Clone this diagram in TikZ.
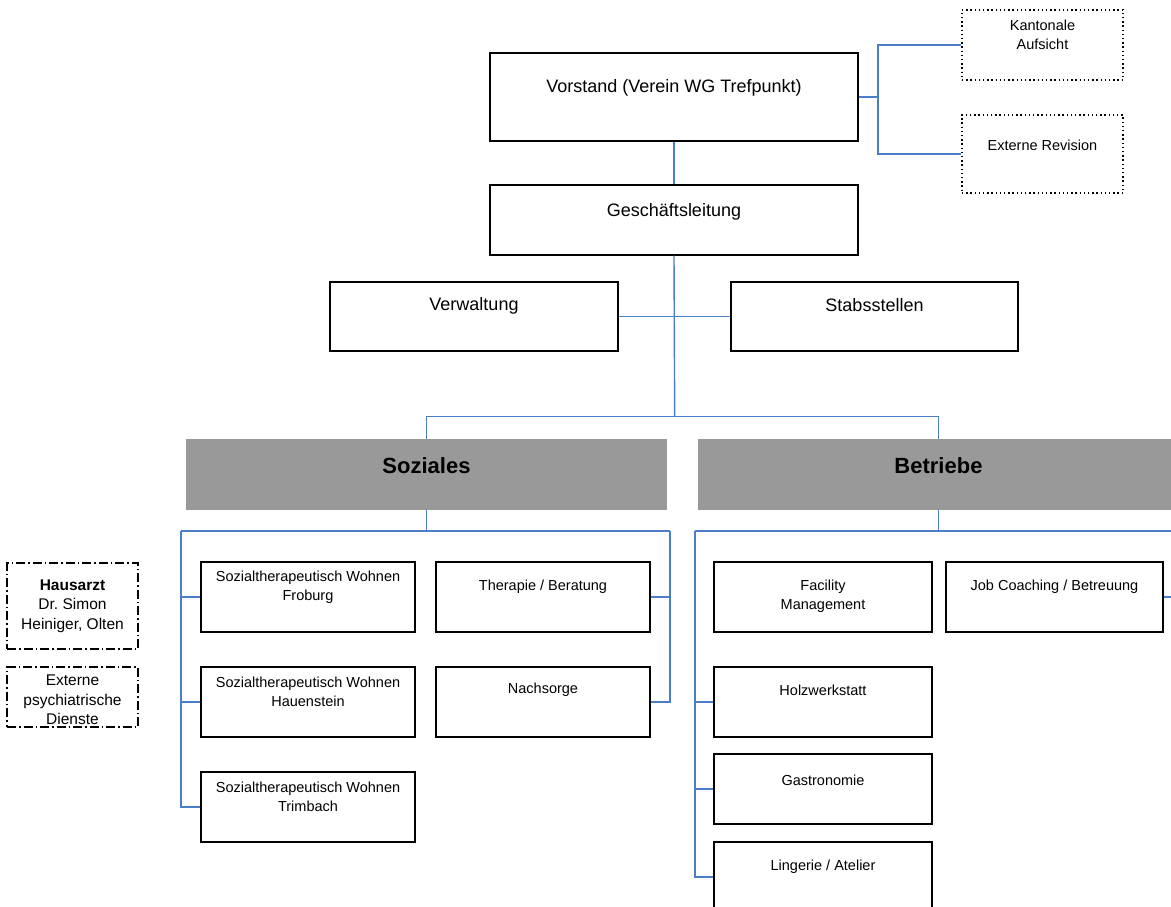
\documentclass[tikz,border=0pt]{standalone}
\usepackage{fontspec}
\setmainfont{Liberation Sans}

\definecolor{linkblue}{RGB}{74,126,200}
\definecolor{unitgray}{RGB}{153,153,153}

\begin{document}
\begin{tikzpicture}[x=1pt, y=-1pt,
    unit/.style={draw, line width=1.2pt, inner sep=0pt},
    bigtxt/.style={font=\fontsize{18}{21}\selectfont},
    smalltxt/.style={font=\fontsize{14.5}{19.5}\selectfont, align=center},
    exttxt/.style={font=\fontsize{15.5}{19.3}\selectfont, align=center},
    area/.style={fill=unitgray, inner sep=0pt, minimum width=481pt, minimum height=71pt},
    areatxt/.style={font=\bfseries\fontsize{22}{26}\selectfont},
    dotbox/.style={draw, line width=1.6pt, dash pattern=on 1.4pt off 2.8pt, inner sep=0pt},
    dashdotbox/.style={draw, line width=1.8pt, dash pattern=on 9pt off 3pt on 1.5pt off 3pt, inner sep=0pt},
    link/.style={draw=linkblue, line width=1.4pt}]
    \path[use as bounding box, clip] (0,0) rectangle (1171,906);

    % top level
    \node[unit, minimum width=368pt, minimum height=88pt,
        label={[bigtxt, yshift=9pt]center:Vorstand (Verein WG Trefpunkt)}] (vorstand) at (674,97) {};
    \node[unit, minimum width=368pt, minimum height=70pt,
        label={[bigtxt, yshift=8pt]center:Geschäftsleitung}] (gl) at (674,220) {};
    \node[unit, minimum width=288pt, minimum height=69pt,
        label={[bigtxt, yshift=11pt]center:Verwaltung}] (verw) at (474,316.5) {};
    \node[unit, minimum width=287pt, minimum height=69pt,
        label={[bigtxt, yshift=11pt]center:Stabsstellen}] (stab) at (874.5,316.5) {};

    % external bodies
    \node[dotbox, minimum width=161pt, minimum height=70pt,
        label={[smalltxt, yshift=10pt]center:{Kantonale\\Aufsicht}}] (kanton) at (1042.5,45) {};
    \node[dotbox, minimum width=161pt, minimum height=78pt,
        label={[smalltxt, yshift=9pt]center:Externe Revision}] (revision) at (1042.5,154) {};
    \node[dashdotbox, minimum width=131pt, minimum height=86pt,
        label={[exttxt]center:{\textbf{Hausarzt}\\Dr.\ Simon\\Heiniger, Olten}}] (arzt) at (72.5,606) {};
    \node[dashdotbox, minimum width=131pt, minimum height=60pt,
        label={[exttxt, yshift=-3pt]center:{Externe\\psychiatrische\\Dienste}}] (psych) at (72.5,697) {};

    % areas
    \node[area, label={[areatxt, yshift=9pt]center:Soziales}] (soz) at (426.5,474.5) {};
    \node[area, label={[areatxt, yshift=9pt]center:Betriebe}] (betr) at (938.5,474.5) {};

    % Soziales units
    \node[unit, minimum width=214pt, minimum height=70pt,
        label={[smalltxt, yshift=10pt]center:{Sozialtherapeutisch Wohnen\\Froburg}}] (froburg) at (308,597) {};
    \node[unit, minimum width=214pt, minimum height=70pt,
        label={[smalltxt, yshift=10pt]center:{Sozialtherapeutisch Wohnen\\Hauenstein}}] (hauenstein) at (308,702) {};
    \node[unit, minimum width=214pt, minimum height=70pt,
        label={[smalltxt, yshift=10pt]center:{Sozialtherapeutisch Wohnen\\Trimbach}}] (trimbach) at (308,807) {};
    \node[unit, minimum width=214pt, minimum height=70pt,
        label={[smalltxt, yshift=10pt]center:Therapie / Beratung}] (therapie) at (543,597) {};
    \node[unit, minimum width=214pt, minimum height=70pt,
        label={[smalltxt, yshift=12pt]center:Nachsorge}] (nachsorge) at (543,702) {};

    % Betriebe units
    \node[unit, minimum width=218pt, minimum height=70pt,
        label={[smalltxt, yshift=1pt]center:{Facility\\Management}}] (facility) at (823,597) {};
    \node[unit, minimum width=217pt, minimum height=70pt,
        label={[smalltxt, yshift=10pt]center:Job Coaching / Betreuung}] (job) at (1054.5,597) {};
    \node[unit, minimum width=218pt, minimum height=70pt,
        label={[smalltxt, yshift=12pt]center:Holzwerkstatt}] (holz) at (823,702) {};
    \node[unit, minimum width=218pt, minimum height=70pt,
        label={[smalltxt, yshift=9pt]center:Gastronomie}] (gastro) at (823,789) {};
    \node[unit, minimum width=218pt, minimum height=70pt,
        label={[smalltxt, yshift=10pt]center:Lingerie / Atelier}] (lingerie) at (823,877) {};

    % connectors
    \coordinate (aufs) at (878,97);
    \coordinate (split) at (674.7,416.7);
    \coordinate (sozL) at (181,531);
    \coordinate (sozR) at (670,531);
    \coordinate (betL) at (695,531);
    \coordinate (betR) at (1180,531);

    \draw[link] (vorstand.south) -- (gl.north);
    \draw[link] (vorstand.east) -- (aufs);
    \draw[link] (kanton.west) -| (aufs);
    \draw[link] (revision.west) -| (aufs);
    \draw[link] (gl.south) -- (split);
    \draw[link] (verw.east) -- (stab.west);
    \draw[link] (soz.north) |- (split) -| (betr.north);

    \draw[link] (soz.south) -- (soz.south |- sozL);
    \draw[link] (sozL) -- (sozR);
    \draw[link] (sozL) |- (froburg.west);
    \draw[link] (sozL) |- (hauenstein.west);
    \draw[link] (sozL) |- (trimbach.west);
    \draw[link] (sozR) |- (therapie.east);
    \draw[link] (sozR) |- (nachsorge.east);

    \draw[link] (betr.south) -- (betr.south |- betL);
    \draw[link] (betL) -- (betR);
    \draw[link] (betL) |- (holz.west);
    \draw[link] (betL) |- (gastro.west);
    \draw[link] (betL) |- (lingerie.west);
    \draw[link] (betR) |- (job.east);
\end{tikzpicture}
\end{document}
